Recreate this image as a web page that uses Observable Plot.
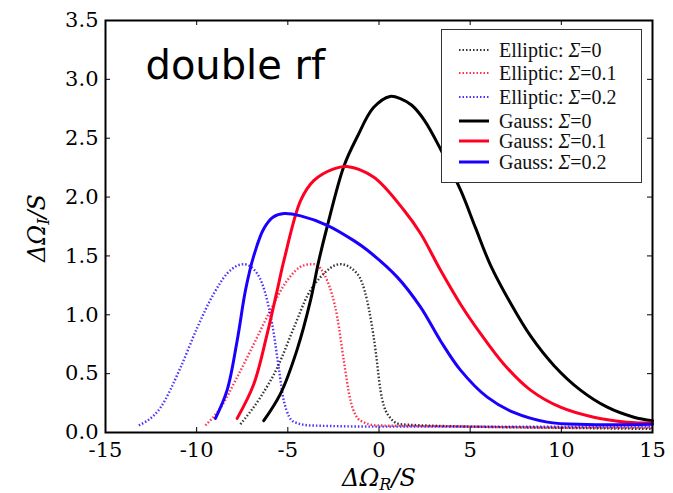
<!DOCTYPE html>
<html><head><meta charset="utf-8">
<script src="https://cdn.jsdelivr.net/npm/d3@7"></script>
<script src="https://cdn.jsdelivr.net/npm/@observablehq/plot@0.6"></script>
<style>html,body{margin:0;padding:0;background:#fff;} #chart{width:673px;height:493px;}</style>
</head><body><div id="chart"></div>
<script>
// ---- data ----
const xTicks = [-15, -10, -5, 0, 5, 10, 15];
const yTicks = [0, 0.5, 1, 1.5, 2, 2.5, 3, 3.5];

const ellipticX0 = [-7.6, -6.5, -5.58, -4.67, -3.9, -3.21, -2.11, -1.2, -0.65, -0.19, 0.08, 0.45, 1.18, 5, 10, 15];
const ellipticY0 = [0.07, 0.30, 0.55, 0.89, 1.17, 1.32, 1.43, 1.35, 1.12, 0.70, 0.36, 0.16, 0.07, 0.05, 0.04, 0.03];

const ellipticX1 = [-9.52, -8.69, -7.78, -6.87, -5.95, -5.04, -4.12, -3.6, -2.84, -2.29, -1.93, -1.56, -1.01, -0.1, 5, 10, 15];
const ellipticY1 = [0.06, 0.21, 0.47, 0.75, 1.04, 1.29, 1.42, 1.43, 1.29, 0.98, 0.61, 0.27, 0.10, 0.06, 0.05, 0.04, 0.04];

const ellipticX2 = [-13.17, -11.99, -10.89, -9.97, -9.06, -8.33, -7.42, -6.68, -6.13, -5.77, -5.5, -5.22, -4.67, -3.76, 0, 5, 10, 15];
const ellipticY2 = [0.06, 0.21, 0.55, 0.89, 1.18, 1.35, 1.43, 1.35, 1.12, 0.84, 0.55, 0.27, 0.09, 0.06, 0.05, 0.05, 0.05, 0.05];

const gaussX0 = [-6.32, -5.4, -4.5, -3.76, -3.3, -2.84, -1.93, -1.2, -0.3, 0.6, 1.2, 1.8, 2.5, 3.4, 4.5, 5.29, 6.12, 7.21, 8.31, 9.59, 11.05, 12.52, 13.98, 15];
const gaussY0 = [0.10, 0.33, 0.70, 1.12, 1.46, 1.75, 2.26, 2.51, 2.76, 2.855, 2.835, 2.78, 2.65, 2.40, 2.05, 1.74, 1.42, 1.10, 0.82, 0.57, 0.36, 0.215, 0.13, 0.10];

const gaussX1 = [-7.78, -6.87, -6.13, -5.58, -5.2, -4.3, -3.58, -2.48, -1.75, -0.3, 1.36, 2.28, 3.37, 4.47, 5.57, 6.85, 8.31, 9.95, 11.78, 13.6, 15];
const gaussY1 = [0.12, 0.41, 0.84, 1.21, 1.47, 1.97, 2.14, 2.24, 2.26, 2.17, 1.89, 1.69, 1.38, 1.09, 0.84, 0.58, 0.36, 0.215, 0.13, 0.088, 0.08];

const gaussX2 = [-8.97, -8.33, -7.78, -7.32, -6.87, -6.32, -5.8, -5.2, -4.3, -2.84, -1.38, -0.65, 1.0, 2.28, 3.37, 4.47, 5.94, 7.39, 9.23, 11.4, 15];
const gaussY2 = [0.12, 0.36, 0.78, 1.21, 1.50, 1.73, 1.83, 1.86, 1.84, 1.76, 1.63, 1.55, 1.32, 1.065, 0.78, 0.53, 0.30, 0.17, 0.088, 0.068, 0.07];

const seriesLabels = ["Elliptic: ", "Elliptic: ", "Elliptic: ", "Gauss: ", "Gauss: ", "Gauss: "];
const sigmaLabels = ["0", "0.1", "0.2", "0", "0.1", "0.2"];
const seriesColors = ["#000000", "#ff0022", "#1a00ff", "#000000", "#ff0022", "#1a00ff"];
const seriesDotted = [true, true, true, false, false, false];
const annotation = ["double rf"];

// ---- layout ----
const W = 673, H = 493, mL = 105, mR = 21, mT = 20, mB = 61;
const plotW = W - mL - mR, plotH = H - mT - mB;

const seriesXs = [ellipticX0, ellipticX1, ellipticX2, gaussX0, gaussX1, gaussX2];
const seriesYs = [ellipticY0, ellipticY1, ellipticY2, gaussY0, gaussY1, gaussY2];
const lineMarks = seriesXs.map((xs, k) => {
  const data = xs.map((x, i) => ({x, y: seriesYs[k][i]}));
  return Plot.line(data, {
    x: "x", y: "y", stroke: seriesColors[k],
    strokeWidth: seriesDotted[k] ? 2.4 : 3,
    strokeDasharray: seriesDotted[k] ? "1.5,2" : null,
    strokeLinecap: seriesDotted[k] ? "butt" : "round",
    strokeOpacity: seriesDotted[k] ? 0.8 : 1,
    curve: seriesDotted[k] ? "monotone-x" : "catmull-rom"
  });
});

const svg = Plot.plot({
  width: W, height: H,
  marginLeft: mL, marginRight: mR, marginTop: mT, marginBottom: mB,
  style: {background: "white", color: "#000"},
  x: {domain: [-15, 15]},
  y: {domain: [0, 3.5]},
  marks: [
    Plot.axisX(xTicks, {anchor: "bottom", tickSize: 0, tickPadding: 10, tickFormat: d => String(d), fontSize: 21, fontFamily: "DejaVu Serif", label: null}),
    Plot.axisY(yTicks, {anchor: "left", tickSize: 0, tickPadding: 7, tickFormat: d => d.toFixed(1), fontSize: 21, fontFamily: "DejaVu Serif", label: null}),
    Plot.tickX(xTicks, {x: d => d, insetTop: plotH - 5, stroke: "#000"}),
    Plot.tickX(xTicks, {x: d => d, insetBottom: plotH - 5, stroke: "#000"}),
    Plot.tickY(yTicks, {y: d => d, insetRight: plotW - 5, stroke: "#000"}),
    Plot.tickY(yTicks, {y: d => d, insetLeft: plotW - 5, stroke: "#000"}),
    ...lineMarks,
    Plot.frame({stroke: "#000", strokeWidth: 2}),
    Plot.text(annotation, {text: d => d, frameAnchor: "top-left", dx: 40, dy: 46, textAnchor: "start", lineAnchor: "middle", fontSize: 40, fontFamily: "DejaVu Sans", fill: "#000"})
  ]
});

const s = d3.select(svg);
// axis labels
const xl = s.append("text").attr("x", 379).attr("y", 486).attr("text-anchor", "middle")
  .attr("font-family", "DejaVu Serif").attr("font-style", "italic").attr("font-size", 24).attr("fill", "#000");
xl.append("tspan").text("ΔΩ");
xl.append("tspan").attr("dy", 4).attr("font-size", 16).text("R");
xl.append("tspan").attr("dy", -4).text("/S");

const yl = s.append("text").attr("transform", "translate(45,228) rotate(-90)").attr("text-anchor", "middle")
  .attr("font-family", "DejaVu Serif").attr("font-style", "italic").attr("font-size", 24).attr("fill", "#000");
yl.append("tspan").text("ΔΩ");
yl.append("tspan").attr("dy", 4).attr("font-size", 16).text("I");
yl.append("tspan").attr("dy", -4).text("/S");

// legend
const lg = s.append("g");
lg.append("rect").attr("x", 441.5).attr("y", 29.5).attr("width", 200).attr("height", 153)
  .attr("fill", "#fff").attr("stroke", "#333").attr("stroke-width", 1);
const rowY = [50, 73, 97, 121, 141, 162];
seriesLabels.forEach((lab, k) => {
  const y = rowY[k];
  lg.append("line").attr("x1", 459).attr("x2", 489).attr("y1", y).attr("y2", y)
    .attr("stroke", seriesColors[k]).attr("stroke-width", seriesDotted[k] ? 2.2 : 3)
    .attr("stroke-dasharray", seriesDotted[k] ? "1.5,2" : null)
    .attr("stroke-opacity", seriesDotted[k] ? 0.8 : 1);
  const t = lg.append("text").attr("x", 499).attr("y", y + 7).attr("text-anchor", "start")
    .attr("font-family", "Liberation Serif").attr("font-size", 20).attr("fill", "#111");
  t.append("tspan").text(lab);
  t.append("tspan").attr("font-style", "italic").text("Σ");
  t.append("tspan").text("=" + sigmaLabels[k]);
});

document.getElementById("chart").appendChild(svg);
</script>
</body></html>
